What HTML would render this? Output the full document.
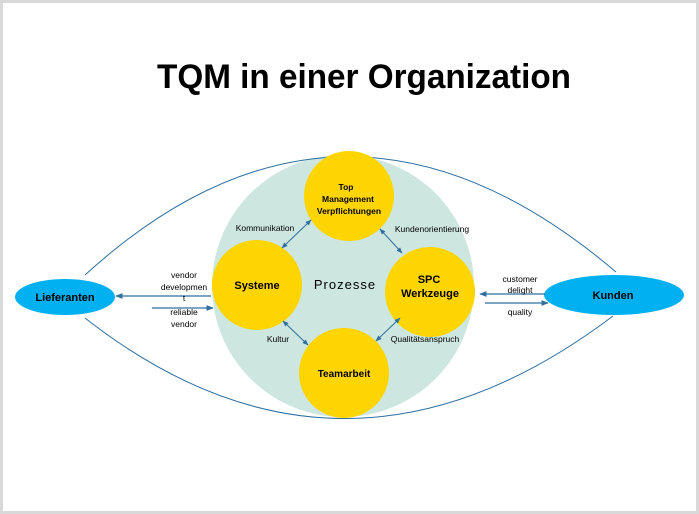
<!DOCTYPE html>
<html><head><meta charset="utf-8"><style>
html,body{margin:0;padding:0;background:#fff}
svg{display:block;font-family:"Liberation Sans",Arial,sans-serif}
</style></head><body>
<svg width="699" height="514" viewBox="0 0 699 514" xmlns="http://www.w3.org/2000/svg">
<defs>
<marker id="a" viewBox="0 0 10 10" refX="9" refY="5" markerWidth="6" markerHeight="6" orient="auto-start-reverse"><path d="M0,1 L10,5 L0,9 z" fill="#2e6fa0"/></marker>
</defs>
<rect x="1.5" y="1.5" width="696" height="511" fill="#fff" stroke="#d9d9d9" stroke-width="3"/>
<text x="364" y="88" font-size="34" font-weight="bold" text-anchor="middle" textLength="414" lengthAdjust="spacingAndGlyphs">TQM in einer Organization</text>
<circle cx="343" cy="286" r="131" fill="#cde6df"/>
<path d="M85,275 Q343,40 616,272" fill="none" stroke="#2e6fa0" stroke-width="1"/>
<path d="M85,318 Q343,520 613,316" fill="none" stroke="#2e6fa0" stroke-width="1"/>
<circle cx="349" cy="196" r="45" fill="#ffd500"/>
<circle cx="257" cy="285" r="45" fill="#ffd500"/>
<circle cx="430" cy="292" r="45" fill="#ffd500"/>
<circle cx="344" cy="373" r="45" fill="#ffd500"/>
<ellipse cx="65" cy="297" rx="50" ry="18" fill="#00b0f0"/>
<ellipse cx="614" cy="295" rx="70" ry="20" fill="#00b0f0"/>
<g stroke="#2e6fa0" stroke-width="1" fill="none" marker-start="url(#a)" marker-end="url(#a)">
<line x1="311" y1="220" x2="282" y2="248"/>
<line x1="380" y1="229" x2="402" y2="253"/>
<line x1="283" y1="321" x2="308" y2="345"/>
<line x1="400" y1="318" x2="376" y2="341"/>
</g>
<g stroke="#2e6fa0" stroke-width="1.2" fill="none">
<line x1="211" y1="296" x2="116" y2="296" marker-end="url(#a)"/>
<line x1="152" y1="308" x2="213" y2="308" marker-end="url(#a)"/>
<line x1="545" y1="294" x2="480" y2="294" marker-end="url(#a)"/>
<line x1="485" y1="303" x2="548" y2="303" marker-end="url(#a)"/>
</g>
<g font-size="9" text-anchor="middle" fill="#000">
<text x="346" y="190" font-weight="bold" font-size="8.5">Top</text>
<text x="348" y="202" font-weight="bold" font-size="8.5">Management</text>
<text x="349" y="214" font-weight="bold" font-size="8.5">Verpflichtungen</text>
<text x="257" y="289" font-weight="bold" font-size="11">Systeme</text>
<text x="345" y="289" font-size="13" letter-spacing="1">Prozesse</text>
<text x="429" y="283" font-weight="bold" font-size="11">SPC</text>
<text x="430" y="297" font-weight="bold" font-size="11">Werkzeuge</text>
<text x="344" y="377" font-weight="bold" font-size="10">Teamarbeit</text>
<text x="65" y="301" font-weight="bold" font-size="11">Lieferanten</text>
<text x="613" y="299" font-weight="bold" font-size="11">Kunden</text>
<text x="265" y="231" font-size="8.5">Kommunikation</text>
<text x="432" y="232" font-size="8.5">Kundenorientierung</text>
<text x="278" y="342" font-size="8.5">Kultur</text>
<text x="425" y="342" font-size="8.5">Qualitätsanspruch</text>
<text x="184" y="278" font-size="8.5">vendor</text>
<text x="184" y="290" font-size="8.5">developmen</text>
<text x="184" y="301" font-size="8.5">t</text>
<text x="184" y="315" font-size="8.5">reliable</text>
<text x="184" y="327" font-size="8.5">vendor</text>
<text x="520" y="282" font-size="8.5">customer</text>
<text x="520" y="293" font-size="8.5">delight</text>
<text x="520" y="315" font-size="8.5">quality</text>
</g>
</svg>
</body></html>
